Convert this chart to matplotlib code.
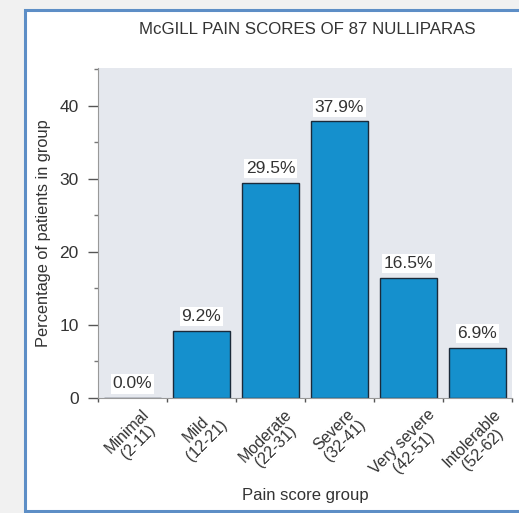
import matplotlib
matplotlib.use("Agg")
import matplotlib.pyplot as plt
from matplotlib.patches import Rectangle

categories = ["Minimal\n(2-11)", "Mild\n(12-21)", "Moderate\n(22-31)", "Severe\n(32-41)",
              "Very severe\n(42-51)", "Intolerable\n(52-62)"]
values = [0.0, 9.2, 29.5, 37.9, 16.5, 6.9]
value_labels = ["0.0%", "9.2%", "29.5%", "37.9%", "16.5%", "6.9%"]

plt.rcParams['font.family'] = ['Liberation Sans', 'DejaVu Sans']
W, H = 519, 513
fig = plt.figure(figsize=(W/100, H/100), dpi=100)
fig.patch.set_facecolor('#f1f1f1')

# white panel with blue frame
fig.patches.append(Rectangle((25/W, 1-511/H), 520/W, 501/H, transform=fig.transFigure,
                             facecolor='white', edgecolor='#5d8ec6', linewidth=2.2, zorder=-5))

ax = fig.add_axes([98/W, 1-398/H, (512-98)/W, (398-68)/H])
ax.set_zorder(1)
ax.set_facecolor('#e5e8ee')
x = list(range(len(categories)))
ax.bar(x, values, width=0.83, color='#1590cd', edgecolor='#1b2a3a', linewidth=1.0, zorder=2)
for xi, v, lab in zip(x, values, value_labels):
    ax.text(xi, v + 0.9, lab, ha='center', va='bottom', fontsize=12.5, color='#333333',
            bbox=dict(facecolor='white', edgecolor='none', pad=1.5), zorder=3)

ax.set_xlim(-0.5, 5.5)
ax.set_ylim(0, 45.2)
ax.set_yticks([0, 10, 20, 30, 40])
ax.set_yticks([5, 15, 25, 35, 45], minor=True)
ax.tick_params(axis='y', which='major', length=7, width=1, color='#555555', labelsize=12.5,
               labelcolor='#333333', pad=7)
ax.tick_params(axis='y', which='minor', length=3, width=1, color='#777777')

ax.set_xticks([i - 0.5 for i in range(7)])
ax.set_xticklabels([])
ax.set_xticks(x, minor=True)
ax.set_xticklabels(categories, minor=True, rotation=45, ha='center', va='top',
                   rotation_mode='default', fontsize=11.5, color='#333333', linespacing=1.05)
ax.tick_params(axis='x', which='major', length=3, width=1, color='#555555')
ax.tick_params(axis='x', which='minor', length=0, pad=6)

for s in ['top', 'right']:
    ax.spines[s].set_visible(False)
ax.spines['left'].set_color('#999999')
ax.spines['bottom'].set_color('#999999')

ax.set_ylabel("Percentage of patients in group", fontsize=11.8, color='#333333', labelpad=6)
ax.set_xlabel("Pain score group", fontsize=12, color='#333333', labelpad=0)
fig.text(307/W, 1-29/H, "McGILL PAIN SCORES OF 87 NULLIPARAS", ha='center', va='center',
         fontsize=12.2, color='#333333')

fig.savefig("out.png", dpi=100, facecolor=fig.get_facecolor())
